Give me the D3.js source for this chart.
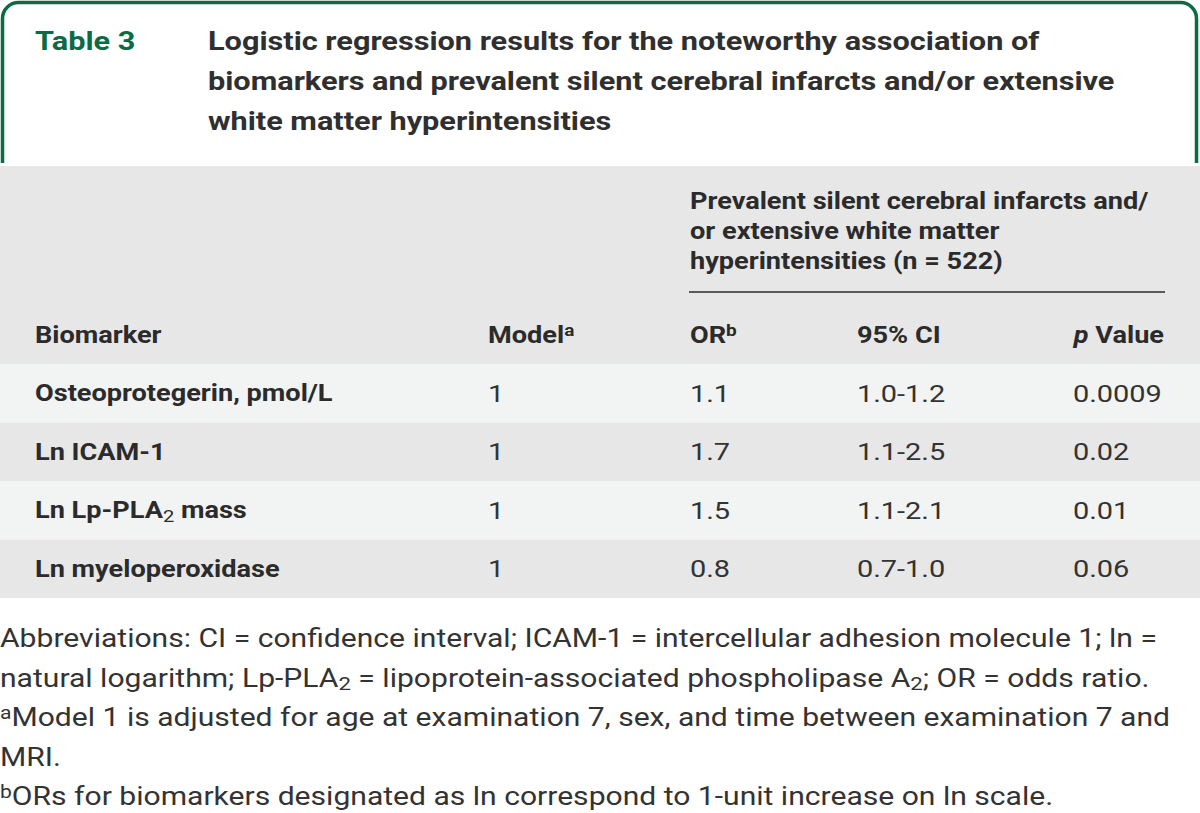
<!DOCTYPE html>
<html>
<head>
<meta charset="utf-8">
<script src="https://cdn.jsdelivr.net/npm/d3@7"></script>
<style>
  html, body { margin: 0; padding: 0; background: #fff; }
  svg { display: block; }
  text { font-family: Roboto, "Liberation Sans", sans-serif; fill: #2b2b2b; }
</style>
</head>
<body>
<svg id="chart" width="1200" height="813"></svg>
<script>
// ---- Data ----
const tableLabel = "Table 3";
const titleLines = [
  "Logistic regression results for the noteworthy association of",
  "biomarkers and prevalent silent cerebral infarcts and/or extensive",
  "white matter hyperintensities"
];
const groupHeaderLines = [
  "Prevalent silent cerebral infarcts and/",
  "or extensive white matter",
  "hyperintensities (n = 522)"
];
// Each label as list of [text, kind] segments (kind: "", "sub", "sup", "it")
const columnHeaders = [
  [["Biomarker", ""]],
  [["Model", ""], ["a", "sup"]],
  [["OR", ""], ["b", "sup"]],
  [["95% CI", ""]],
  [["p", "it"], [" Value", ""]]
];
const biomarkers = [
  [["Osteoprotegerin, pmol/L", ""]],
  [["Ln ICAM-1", ""]],
  [["Ln Lp-PLA", ""], ["2", "sub"], [" mass", ""]],
  [["Ln myeloperoxidase", ""]]
];
const models = ["1", "1", "1", "1"];
const oddsRatios = ["1.1", "1.7", "1.5", "0.8"];
const confIntervals = ["1.0-1.2", "1.1-2.5", "1.1-2.1", "0.7-1.0"];
const pValues = ["0.0009", "0.02", "0.01", "0.06"];
const footnotes = [
  [["Abbreviations: CI = confidence interval; ICAM-1 = intercellular adhesion molecule 1; ln =", ""]],
  [["natural logarithm; Lp-PLA", ""], ["2", "sub"], [" = lipoprotein-associated phospholipase A", ""], ["2", "sub"], ["; OR = odds ratio.", ""]],
  [["a", "sup"], ["Model 1 is adjusted for age at examination 7, sex, and time between examination 7 and", ""]],
  [["MRI.", ""]],
  [["b", "sup"], ["ORs for biomarkers designated as ln correspond to 1-unit increase on ln scale.", ""]]
];

// ---- Layout ----
const W = 1200, H = 813;
const green = "#0a6b45";
const stretch = 1.18;   // reference typeface is wider than Roboto
const svg = d3.select("#chart");

function addText(x, y, size, weight, anchor) {
  return svg.append("text")
    .attr("transform", `translate(${x},${y}) scale(${stretch},1)`)
    .attr("font-size", size).attr("font-weight", weight)
    .attr("text-anchor", anchor || "start");
}

function writeSegments(sel, segs, size) {
  segs.forEach(([t, kind]) => {
    const ts = sel.append("tspan").text(t);
    if (kind === "sub") {
      ts.attr("font-size", size * 0.74).attr("baseline-shift", "-20%").attr("font-weight", 400);
    } else if (kind === "sup") {
      ts.attr("font-size", size * 0.7).attr("baseline-shift", "42%");
    } else if (kind === "it") {
      ts.attr("font-style", "italic");
    }
  });
}

// Frame
const r = 16, fx0 = 2.5, fx1 = 1196.5, fy0 = 2.5, fyEnd = 163;
svg.append("path")
  .attr("d", `M${fx0},${fyEnd} V${fy0 + r} A${r},${r} 0 0 1 ${fx0 + r},${fy0} H${fx1 - r} A${r},${r} 0 0 1 ${fx1},${fy0 + r} V${fyEnd}`)
  .attr("fill", "none").attr("stroke", green).attr("stroke-width", 3.5);

// Title
addText(35, 50, 26, 700).style("fill", green).text(tableLabel);
const titleY = d3.scalePoint().domain(d3.range(titleLines.length)).range([50, 130]);
titleLines.forEach((line, i) => {
  addText(208, titleY(i), 26, 700).style("fill", "#2f2f2f").text(line);
});

// Header background
const headTop = 166, headBottom = 364;
svg.append("rect").attr("x", 0).attr("y", headTop).attr("width", W)
  .attr("height", headBottom - headTop).attr("fill", "#e7e7e7");

// Group header
const ghY = d3.scalePoint().domain(d3.range(groupHeaderLines.length)).range([209, 269]);
groupHeaderLines.forEach((line, i) => {
  addText(690, ghY(i), 23, 700).text(line);
});
svg.append("line").attr("x1", 689).attr("x2", 1165)
  .attr("y1", 292).attr("y2", 292)
  .attr("stroke", "#2b2b2b").attr("stroke-width", 1.5);

// Column headers
const colX = [35, 488, 690, 857, 1164];
const colAnchor = ["start", "start", "start", "start", "end"];
columnHeaders.forEach((segs, i) => {
  const t = addText(colX[i], 343, 23, 700, colAnchor[i]);
  writeSegments(t, segs, 23);
});

// Rows
const rowY = d3.scaleBand().domain(d3.range(biomarkers.length)).range([364, 598]);
const rowFill = ["#f2f3f3", "#e7e7e7"];
svg.selectAll("rect.row").data(biomarkers).join("rect")
  .attr("class", "row")
  .attr("x", 0).attr("width", W)
  .attr("y", (d, i) => rowY(i)).attr("height", rowY.bandwidth())
  .attr("fill", (d, i) => rowFill[i % 2]);

const dataCols = [models, oddsRatios, confIntervals, pValues];
const dataX = [488, 690, 857, 1073];
biomarkers.forEach((segs, i) => {
  const y = rowY(i) + rowY.bandwidth() / 2 + 8;
  const t = addText(colX[0], y, 23, 700);
  writeSegments(t, segs, 23);
  dataCols.forEach((col, j) => {
    addText(dataX[j], y + 0.5, 24.5, 400).style("fill", "#333").text(col[i]);
  });
});

// Footnotes
const fnY = d3.scalePoint().domain(d3.range(footnotes.length)).range([647, 805]);
footnotes.forEach((segs, i) => {
  const t = addText(0, fnY(i), 25.5, 400).style("fill", "#333");
  writeSegments(t, segs, 25.5);
});
</script>
</body>
</html>
